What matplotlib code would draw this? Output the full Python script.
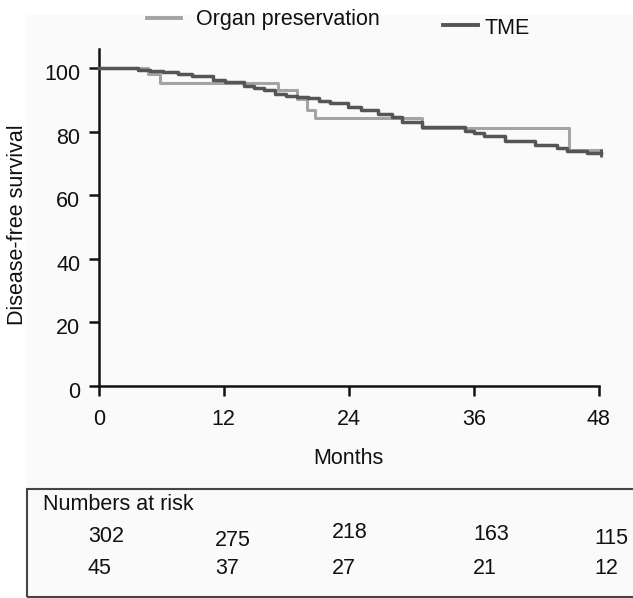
import matplotlib
matplotlib.use("Agg")
import matplotlib.pyplot as plt
import matplotlib.transforms as mtransforms
from matplotlib.lines import Line2D
from matplotlib.patches import Rectangle

# ---------------- data ----------------
op_months = [0, 4.75, 5.9, 17.2, 19.0, 20.0, 20.8, 31.0, 45.1, 48.2]
op_surv = [100, 98.0, 95.2, 93.0, 90.3, 86.8, 84.2, 81.0, 74.2, 74.2]

tme_months = [0, 3.8, 4.9, 6.2, 7.6, 8.9, 11.0, 12.1, 13.9, 14.9, 15.9, 16.9, 18.0,
              19.0, 20.1, 21.1, 22.2, 23.9, 25.2, 26.8, 28.1, 29.1, 31.0, 35.2,
              36.0, 37.0, 39.0, 41.9, 44.0, 44.9, 46.9, 48.2]
tme_surv = [100, 99.5, 99.1, 98.8, 98.2, 97.5, 96.2, 95.5, 94.5, 93.7, 93.0, 92.0, 91.3,
            91.0, 90.5, 89.6, 88.9, 87.8, 86.8, 85.4, 84.7, 83.0, 81.4, 80.3,
            79.5, 78.6, 77.1, 75.7, 75.0, 74.0, 73.2, 73.2]

x_ticks = [0, 12, 24, 36, 48]
y_ticks = [0, 20, 40, 60, 80, 100]

risk_tme = ["302", "275", "218", "163", "115"]
risk_op = ["45", "37", "27", "21", "12"]

# ---------------- layout ----------------
W, H = 633, 598
plt.rcParams['font.family'] = ['Liberation Sans', 'DejaVu Sans']
FS = 15.5
TXT = '#111111'

fig = plt.figure(figsize=(W / 100, H / 100), dpi=100)
fig.patch.set_facecolor('white')

def fx(x):
    return x / W

def fy(y):
    return 1 - y / H

# light background panel
fig.add_artist(Rectangle((fx(26), 0), 1, fy(15), transform=fig.transFigure,
                         facecolor='#fafafa', edgecolor='none', zorder=-10))

ax = fig.add_axes([fx(98.8), fy(386), (598.8 - 98.8) / W, (386 - 49) / H])
ax.set_facecolor('none')
ax.set_xlim(0, 48)
ax.set_ylim(0, 106)

OP_COL = '#a4a4a4'
TME_COL = '#555555'

ax.step(op_months, op_surv, where='post', color=OP_COL, lw=2.2, clip_on=False, zorder=3)
ax.step(tme_months, tme_surv, where='post', color=TME_COL, lw=2.5, clip_on=False, zorder=4)
ax.plot([tme_months[-1]], [tme_surv[-1]], marker='|', color=TME_COL, ms=6, mew=2,
        clip_on=False, zorder=5)

for s in ['top', 'right']:
    ax.spines[s].set_visible(False)
for s in ['left', 'bottom']:
    ax.spines[s].set_linewidth(1.8)
    ax.spines[s].set_color(TXT)

ax.set_xticks(x_ticks)
ax.set_yticks(y_ticks)
ax.tick_params(axis='both', direction='out', length=7.2, width=1.8, color=TXT,
               labelsize=FS, labelcolor=TXT)
ax.tick_params(axis='x', pad=9.5)
ax.tick_params(axis='y', pad=6)

# y tick labels sit slightly below their ticks in the reference
shift = mtransforms.ScaledTranslation(0, -4 / 100, fig.dpi_scale_trans)
for lab in ax.get_yticklabels():
    lab.set_transform(lab.get_transform() + shift)

fig.text(fx(348.8), fy(458), "Months", ha='center', va='center', fontsize=FS, color=TXT)
fig.text(fx(18), fy(225), "Disease-free survival", ha='center', va='center',
         rotation=90, fontsize=FS, color=TXT)

# legend
fig.add_artist(Line2D([fx(147), fx(181)], [fy(18), fy(18)], color=OP_COL, lw=2.8,
                      transform=fig.transFigure))
fig.text(fx(196), fy(19), "Organ preservation", ha='left', va='center', fontsize=FS,
         color=TXT)
fig.add_artist(Line2D([fx(443), fx(478)], [fy(25), fy(25)], color=TME_COL, lw=2.8,
                      transform=fig.transFigure))
fig.text(fx(484), fy(28), "TME", ha='left', va='center', fontsize=FS, color=TXT)

# numbers at risk box
fig.add_artist(Rectangle((fx(26.7), fy(596.7)), 1.2, (596.7 - 489) / H,
                         transform=fig.transFigure, facecolor='none',
                         edgecolor='#444444', lw=1.5, clip_on=False))
fig.text(fx(43), fy(505), "Numbers at risk", ha='left', va='center', fontsize=FS,
         color=TXT)

col_x = [88, 215, 332, 473, 594]
row1_y = [536, 541, 532, 535, 538.5]
row2_y = [569, 569, 569, 569, 569]
for lbl, x, y in zip(risk_tme, col_x, row1_y):
    fig.text(fx(x), fy(y), lbl, ha='left', va='center', fontsize=FS, color=TXT)
for lbl, x, y in zip(risk_op, col_x, row2_y):
    fig.text(fx(x), fy(y), lbl, ha='left', va='center', fontsize=FS, color=TXT)

fig.savefig("out.png", dpi=100)
